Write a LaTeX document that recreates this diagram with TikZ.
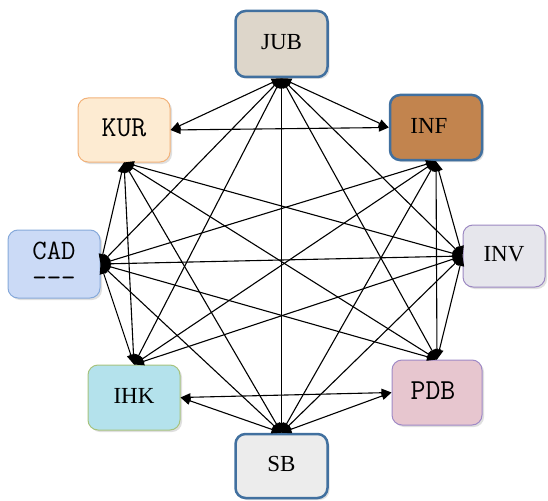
\documentclass[tikz,border=0pt]{standalone}
\usepackage{fontspec}
\setmainfont{Liberation Serif}
\usetikzlibrary{arrows.meta,shadows}
\definecolor{bluebd}{HTML}{41709F}
\definecolor{jubfill}{HTML}{DDD6CA}
\definecolor{kurfill}{HTML}{FDEBD2}
\definecolor{kurbd}{HTML}{F2B27A}
\definecolor{inffill}{HTML}{C2844E}
\definecolor{cadfill}{HTML}{CBDAF6}
\definecolor{cadbd}{HTML}{86A9DA}
\definecolor{invfill}{HTML}{E6E6EC}
\definecolor{invbd}{HTML}{9C88C2}
\definecolor{ihkfill}{HTML}{B4E2EC}
\definecolor{ihkbd}{HTML}{A7C37E}
\definecolor{pdbfill}{HTML}{E7C6CF}
\definecolor{pdbbd}{HTML}{A08AC6}
\definecolor{sbfill}{HTML}{ECECEC}
\newcommand{\uplab}[1]{\raisebox{4pt}{#1}}
\tikzset{
  box/.style={rounded corners=10pt, minimum width=92pt, minimum height=65pt,
    inner sep=0pt, font=\fontsize{23}{25}\selectfont,
    drop shadow={opacity=0.25, shadow xshift=2pt, shadow yshift=-2pt}},
  monobox/.style={box, font=\ttfamily\fontsize{29}{30}\selectfont},
  thickbd/.style={draw=bluebd, line width=2.5pt},
  thinbd/.style={line width=1pt},
  link/.style={line width=1.1pt, {Triangle[length=10pt,width=8pt]}-{Triangle[length=10pt,width=8pt]}}
}
\begin{document}
\begin{tikzpicture}[x=1pt,y=-1pt]
\useasboundingbox (0,0) rectangle (548,500);
\node[box, thickbd, fill=jubfill, minimum width=92pt, minimum height=66pt] (jub) at (281.5,44) {\uplab{JUB}};
\node[monobox, thinbd, draw=kurbd, fill=kurfill, minimum height=64pt] (kur) at (124,130) {\uplab{KUR}};
\node[box, thickbd, fill=inffill] (inf) at (436,127.5) {\uplab{INF\hspace{14pt}}};
\node[monobox, thinbd, draw=cadbd, fill=cadfill, minimum height=68pt, align=center, font=\ttfamily\fontsize{28}{27}\selectfont] (cad) at (54,264) {CAD\\-{}-{}-};
\node[box, thinbd, draw=invbd, fill=invfill, minimum width=82pt, minimum height=62pt] (inv) at (504,256) {\uplab{INV}};
\node[box, thinbd, draw=ihkbd, fill=ihkfill] (ihk) at (134,397.5) {\uplab{IHK}};
\node[monobox, thinbd, draw=pdbbd, fill=pdbfill, minimum width=90pt] (pdb) at (437,392.5) {\uplab{PDB\hspace{8pt}}};
\node[box, thickbd, fill=sbfill, minimum width=92pt, minimum height=64pt] (sb) at (281.5,466) {\uplab{SB}};
% JUB
\draw[link] (jub.south) -- (kur.east);
\draw[link] (jub.south) -- (inf.west);
\draw[link] (jub.south) -- (cad.east);
\draw[link] (jub.south) -- (inv.west);
\draw[link] (jub.south) -- (ihk.north);
\draw[link] (jub.south) -- (pdb.north);
\draw[link] (jub.south) -- (sb.north);
% KUR
\draw[link] (kur.east) -- (inf.west);
\draw[link] (kur.south) -- (cad.east);
\draw[link] (kur.south) -- (inv.west);
\draw[link] (kur.south) -- (ihk.north);
\draw[link] (kur.south) -- (pdb.north);
\draw[link] (kur.south) -- (sb.north);
% INF
\draw[link] (inf.south) -- (cad.east);
\draw[link] (inf.south) -- (inv.west);
\draw[link] (inf.south) -- (ihk.north);
\draw[link] (inf.south) -- (pdb.north);
\draw[link] (inf.south) -- (sb.north);
% CAD
\draw[link] (cad.east) -- (inv.west);
\draw[link] (cad.east) -- (ihk.north);
\draw[link] (cad.east) -- (pdb.north);
\draw[link] (cad.east) -- (sb.north);
% INV
\draw[link] (inv.west) -- (ihk.north);
\draw[link] (inv.west) -- (pdb.north);
\draw[link] (inv.west) -- (sb.north);
% IHK, PDB
\draw[link] (ihk.east) -- (pdb.west);
\draw[link] (ihk.east) -- (sb.north);
\draw[link] (pdb.west) -- (sb.north);
\end{tikzpicture}
\end{document}
